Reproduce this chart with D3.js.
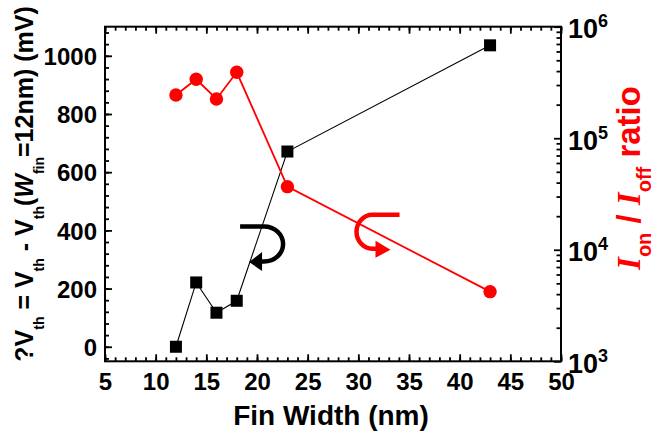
<!DOCTYPE html>
<html>
<head>
<meta charset="utf-8">
<script src="https://cdn.jsdelivr.net/npm/d3@7"></script>
<style>
  body { margin: 0; background: #fff; }
  svg { display: block; }
  text { font-family: "Liberation Sans", Arial, sans-serif; font-weight: bold; }
</style>
</head>
<body>
<svg id="chart"></svg>
<script>
/// data ///
const finWidth = [12, 14, 16, 18, 23, 43];
const deltaVth = [0, 221, 117, 158, 671, 1036];          // mV, left axis
const onOffRatio = [2.44e5, 3.38e5, 2.25e5, 3.9e5, 3.68e4, 4.21e3]; // right axis
const xTicks = [5, 10, 15, 20, 25, 30, 35, 40, 45, 50];
const yLeftTicks = [0, 200, 400, 600, 800, 1000];
const yRightTicks = [1e3, 1e4, 1e5, 1e6];

/// dimensions ///
const width = 671;
const height = 439;
const margin = {top: 26.7, right: 110, bottom: 77.7, left: 105};

const svg = d3.select("#chart")
  .attr("width", width)
  .attr("height", height);

/// scales ///
const x = d3.scaleLinear()
  .domain([5, 50])
  .range([margin.left, width - margin.right]);
const yL = d3.scaleLinear()
  .domain([-50, 1100])
  .range([height - margin.bottom, margin.top]);
const yR = d3.scaleLog()
  .domain([1e3, 1e6])
  .range([height - margin.bottom, margin.top]);

const x0 = x.range()[0], x1 = x.range()[1];
const yBot = yL.range()[0], yTop = yL.range()[1];

/// axes ///
const strip = g => g.call(g => g.select(".domain").remove());

// minor ticks first
svg.append("g").attr("transform", `translate(0,${yBot})`)
  .call(d3.axisBottom(x).tickValues(d3.range(5, 51, 1)).tickSize(-4).tickFormat(""))
  .call(strip);
svg.append("g").attr("transform", `translate(0,${yTop})`)
  .call(d3.axisTop(x).tickValues(d3.range(5, 51, 1)).tickSize(-4).tickFormat(""))
  .call(strip);
svg.append("g").attr("transform", `translate(${x0},0)`)
  .call(d3.axisLeft(yL).tickValues(d3.range(-40, 1100, 40)).tickSize(-4).tickFormat(""))
  .call(strip);
const logMinor = [];
[1e3, 1e4, 1e5].forEach(d => d3.range(2, 10).forEach(k => logMinor.push(d * k)));
svg.append("g").attr("transform", `translate(${x1},0)`)
  .call(d3.axisRight(yR).tickValues(logMinor).tickSize(-4.5).tickFormat(""))
  .call(strip);

// major ticks
const xAxis = svg.append("g").attr("transform", `translate(0,${yBot})`)
  .call(d3.axisBottom(x).tickValues(xTicks).tickSize(-7).tickPadding(12))
  .call(strip);
xAxis.selectAll(".tick text").attr("font-size", 24).attr("dy", "0.71em");

svg.append("g").attr("transform", `translate(0,${yTop})`)
  .call(d3.axisTop(x).tickValues(xTicks).tickSize(-7).tickFormat(""))
  .call(strip);

const yAxisL = svg.append("g").attr("transform", `translate(${x0},0)`)
  .call(d3.axisLeft(yL).tickValues(yLeftTicks).tickSize(-7).tickPadding(8).tickFormat(d3.format("d")))
  .call(strip);
yAxisL.selectAll(".tick text").attr("font-size", 24).attr("dy", "0.36em");

const yAxisR = svg.append("g").attr("transform", `translate(${x1},0)`)
  .call(d3.axisRight(yR).tickValues(yRightTicks).tickSize(-7).tickPadding(7))
  .call(strip);
yAxisR.selectAll(".tick text")
  .attr("font-size", 27)
  .attr("dy", "0.4em")
  .text(null)
  .each(function(d) {
    const t = d3.select(this);
    t.append("tspan").text("10");
    t.append("tspan").attr("font-size", 18).attr("dy", -11).text(Math.round(Math.log10(d)));
  });
svg.selectAll(".tick text").attr("fill", "#000");
svg.selectAll(".tick line").attr("stroke", "#000").attr("stroke-width", 1.8);

// frame
svg.append("rect")
  .attr("x", x0).attr("y", yTop)
  .attr("width", x1 - x0).attr("height", yBot - yTop)
  .attr("fill", "none").attr("stroke", "#000").attr("stroke-width", 2);

/// series ///
const black = finWidth.map((w, i) => ({x: w, y: deltaVth[i]}));
const red = finWidth.map((w, i) => ({x: w, y: onOffRatio[i]}));

svg.append("path")
  .datum(black)
  .attr("fill", "none").attr("stroke", "#000").attr("stroke-width", 1.1)
  .attr("d", d3.line().x(d => x(d.x)).y(d => yL(d.y)));
svg.append("g").selectAll("rect")
  .data(black)
  .join("rect")
    .attr("x", d => x(d.x) - 6).attr("y", d => yL(d.y) - 6)
    .attr("width", 12).attr("height", 12)
    .attr("fill", "#000");

svg.append("path")
  .datum(red)
  .attr("fill", "none").attr("stroke", "#ff0000").attr("stroke-width", 1.8)
  .attr("d", d3.line().x(d => x(d.x)).y(d => yR(d.y)));
svg.append("g").selectAll("circle")
  .data(red)
  .join("circle")
    .attr("cx", d => x(d.x)).attr("cy", d => yR(d.y))
    .attr("r", 6.7)
    .attr("fill", "#ff0000");

/// curved arrows pointing to the axes ///
// black arrow -> left axis, centred at (20.7 nm, 353 mV)
const bx = x(20.7), by = yL(353);
svg.append("path")
  .attr("fill", "none").attr("stroke", "#000").attr("stroke-width", 4.5)
  .attr("d", `M${bx - 24},${by - 17.5} L${bx},${by - 17.5} A19,17.5 0 0 1 ${bx},${by + 17.5} L${bx - 4},${by + 17.5}`);
svg.append("path")
  .attr("fill", "#000")
  .attr("d", `M${bx - 15},${by + 18} L${bx - 2},${by + 8} L${bx - 2},${by + 27} Z`);

// red arrow -> right axis, centred at (31.4 nm, 1.45e4)
const rx = x(31.4), ry = yR(1.45e4);
svg.append("path")
  .attr("fill", "none").attr("stroke", "#ff0000").attr("stroke-width", 4.5)
  .attr("d", `M${rx + 27},${ry - 17} L${rx},${ry - 17} A16,17 0 0 0 ${rx},${ry + 17} L${rx + 5},${ry + 17}`);
svg.append("path")
  .attr("fill", "#ff0000")
  .attr("d", `M${rx + 18},${ry + 18} L${rx + 3},${ry + 9} L${rx + 3},${ry + 26} Z`);

/// axis titles ///
svg.append("text")
  .attr("x", (x0 + x1) / 2 - 2).attr("y", 425)
  .attr("text-anchor", "middle")
  .attr("font-size", 28)
  .attr("fill", "#000")
  .text("Fin Width (nm)");

// left title
const lt = svg.append("text")
  .attr("transform", "translate(33,184) rotate(-90)")
  .attr("text-anchor", "middle")
  .attr("font-size", 25)
  .attr("fill", "#000");
const sub = (t, s) => { lt.append("tspan").attr("font-size", 14).attr("dy", 11).text(s); lt.append("tspan").attr("dy", -11).text(t); };
lt.append("tspan").text("?V");
sub(" = V", "th");
sub(" - V", "th");
sub("(", "th");
lt.append("tspan").attr("font-style", "italic").text("W");
sub("=12nm) (mV)", "fin");

// right title
const rt = svg.append("text")
  .attr("transform", "translate(640,178) rotate(-90)")
  .attr("text-anchor", "middle")
  .attr("font-size", 33)
  .attr("fill", "#ff0000");
const serifI = () => rt.append("tspan")
  .attr("font-family", "'Liberation Serif', 'Times New Roman', serif")
  .attr("font-style", "italic").text("I");
serifI();
rt.append("tspan").attr("font-size", 20).attr("dy", 11).text("on");
rt.append("tspan").attr("dy", -11).text(" / ");
serifI();
rt.append("tspan").attr("font-size", 20).attr("dy", 11).text("off");
rt.append("tspan").attr("dy", -11).text(" ratio");
</script>
</body>
</html>
